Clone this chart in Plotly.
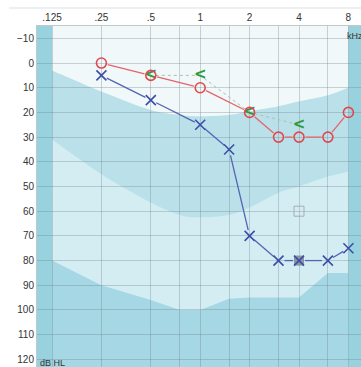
import math
import plotly.graph_objects as go

# ---------------- data ----------------
freq_ticks = [0.125, 0.25, 0.5, 0.75, 1, 1.5, 2, 3, 4, 6, 8]
freq_ticktext = [".125", ".25", ".5", "", "1", "", "2", "", "4", "", "8"]
db_ticks = list(range(-10, 121, 10))

right_air_f = [0.25, 0.5, 1, 2, 3, 4, 6, 8]
right_air_db = [0, 5, 10, 20, 30, 30, 30, 20]

bone_f = [0.5, 1, 2, 4]
bone_db = [5, 5, 20, 25]

left_air_f = [0.25, 0.5, 1, 1.5, 2, 3, 4, 6, 8]
left_air_db = [5, 15, 25, 35, 70, 80, 80, 80, 75]

mask_open_f = [4]
mask_open_db = [60]
mask_fill_f = [4]
mask_fill_db = [80]

# background degree-of-loss boundaries
band_f = [0.125, 0.25, 0.5, 0.75, 1, 1.5, 2, 3, 4, 6, 8]
bound_a = [3, 11.5, 19, 21, 21.5, 21, 19.5, 17.5, 15.5, 13, 10]
bound_b = [31, 45, 56.5, 61.5, 62.5, 61.5, 58.5, 52.5, 50, 46, 44]
bound_c = [80, 90, 96, 100, 100, 95.5, 95, 95, 95, 85, 85]

# ---------------- geometry ----------------
W, H = 361, 367
ML, MT, MR, MB = 37, 26, 0, 0
PW, PH = W - ML - MR, H - MT - MB
L2 = math.log10(2)
XR = [math.log10(0.125) - 0.304 * L2, math.log10(0.125) + 6.255 * L2]
YR = [123.1, -15]
PXD = PW / (XR[1] - XR[0])
PYD = PH / (YR[0] - YR[1])

C_BG = "#f1f8fa"
C_A = "#bae1ea"
C_B = "#d3edf3"
C_C = "#a5d8e4"
C_BAND = "#99d2df"
RED = "#e2474f"
BLUE = "#3b4ea6"
GREEN = "#2f9a3e"


def gapped(fs, ds, gap):
    xs, ys = [], []
    for i in range(len(fs) - 1):
        x0, y0 = math.log10(fs[i]) * PXD, ds[i] * PYD
        x1, y1 = math.log10(fs[i + 1]) * PXD, ds[i + 1] * PYD
        d = math.hypot(x1 - x0, y1 - y0)
        if d <= 2 * gap:
            continue
        ux, uy = (x1 - x0) / d, (y1 - y0) / d
        ax, ay = x0 + ux * gap, y0 + uy * gap
        bx, by = x1 - ux * gap, y1 - uy * gap
        xs += [10 ** (ax / PXD), 10 ** (bx / PXD), None]
        ys += [ay / PYD, by / PYD, None]
    return xs, ys


def smooth_path(fs, ds, bottom):
    pts = [(math.log10(f), d) for f, d in zip(fs, ds)]
    n = len(pts)
    s = f"M {fs[0]},{ds[0]}"
    for i in range(n - 1):
        p0 = pts[max(i - 1, 0)]
        p1 = pts[i]
        p2 = pts[i + 1]
        p3 = pts[min(i + 2, n - 1)]
        c1 = (p1[0] + (p2[0] - p0[0]) / 6, p1[1] + (p2[1] - p0[1]) / 6)
        c2 = (p2[0] - (p3[0] - p1[0]) / 6, p2[1] - (p3[1] - p1[1]) / 6)
        s += (f" C {10 ** c1[0]},{c1[1]} {10 ** c2[0]},{c2[1]} "
              f"{10 ** p2[0]},{p2[1]}")
    s += f" L {fs[-1]},{bottom} L {fs[0]},{bottom} Z"
    return s


def poly_path(fs, ds, bottom):
    s = f"M {fs[0]},{ds[0]}"
    for f, d in zip(fs[1:], ds[1:]):
        s += f" L {f},{d}"
    s += f" L {fs[-1]},{bottom} L {fs[0]},{bottom} Z"
    return s


shapes = [
    dict(type="path", xref="x", yref="y", layer="below", line_width=0,
         fillcolor=C_A, path=smooth_path(band_f, bound_a, 140)),
    dict(type="path", xref="x", yref="y", layer="below", line_width=0,
         fillcolor=C_B, path=smooth_path(band_f, bound_b, 140)),
    dict(type="path", xref="x", yref="y", layer="below", line_width=0,
         fillcolor=C_C, path=poly_path(band_f, bound_c, 140)),
    dict(type="rect", xref="x", yref="y", layer="below", line_width=0,
         fillcolor=C_BAND, x0=0.05, x1=band_f[0], y0=-30, y1=140),
    dict(type="rect", xref="x", yref="y", layer="below", line_width=0,
         fillcolor=C_BAND, x0=band_f[-1], x1=20, y0=-30, y1=140),
    dict(type="line", xref="paper", yref="paper", layer="above",
         x0=(9 - ML) / PW, x1=1, y0=1 + (MT - 8) / PH, y1=1 + (MT - 8) / PH,
         line=dict(color="#dcdfe1", width=1)),
]

fig = go.Figure()

# bone conduction dotted connections
bx, by = gapped(bone_f, bone_db, 5)
fig.add_trace(go.Scatter(x=bx, y=by, mode="lines", hoverinfo="skip",
                         line=dict(color="#a3c4a9", width=1, dash="dot")))
# right ear air lines
rx, ry = gapped(right_air_f, right_air_db, 6.5)
fig.add_trace(go.Scatter(x=rx, y=ry, mode="lines", hoverinfo="skip",
                         line=dict(color="#e3636a", width=1.3)))
# left ear air lines
lx, ly = gapped(left_air_f, left_air_db, 6)
fig.add_trace(go.Scatter(x=lx, y=ly, mode="lines", hoverinfo="skip",
                         line=dict(color="#5464b3", width=1.3)))

# masking squares
fig.add_trace(go.Scatter(x=mask_open_f, y=mask_open_db, mode="markers",
                         marker=dict(symbol="square-open", size=10,
                                     color="#a9adb1", line=dict(width=1))))
fig.add_trace(go.Scatter(x=mask_fill_f, y=mask_fill_db, mode="markers",
                         marker=dict(symbol="square", size=10,
                                     color="#8e93a2", line=dict(width=0))))

# symbols
fig.add_trace(go.Scatter(x=bone_f, y=bone_db, mode="text", text=["<"] * len(bone_f),
                         textposition="middle center",
                         textfont=dict(color=GREEN, size=15, weight="bold",
                                       family="DejaVu Sans")))
fig.add_trace(go.Scatter(x=right_air_f, y=right_air_db, mode="markers",
                         marker=dict(symbol="circle-open", size=10, color=RED,
                                     line=dict(width=1.6))))
fig.add_trace(go.Scatter(x=left_air_f, y=left_air_db, mode="markers",
                         marker=dict(symbol="x-thin-open", size=10, color=BLUE,
                                     line=dict(width=1.6, color=BLUE))))

grid = "rgba(110,125,130,0.32)"
fig.update_layout(
    width=W, height=H,
    margin=dict(l=ML, r=MR, t=MT, b=MB, pad=0),
    paper_bgcolor="white", plot_bgcolor=C_BG,
    showlegend=False,
    shapes=shapes,
    font=dict(family="Liberation Sans, Arial, sans-serif", size=10, color="#333"),
    xaxis=dict(type="log", range=XR, side="top", tickmode="array",
               tickvals=freq_ticks, ticktext=freq_ticktext, ticks="",
               showgrid=True, gridcolor=grid, gridwidth=1, zeroline=False,
               showline=True, linecolor="#c3c8cb", linewidth=1,
               tickfont=dict(size=10, color="#333")),
    yaxis=dict(range=YR, tickmode="array", tickvals=db_ticks, ticks="",
               showgrid=True, gridcolor=grid, gridwidth=1, zeroline=False,
               showline=True, linecolor="#c3c8cb", linewidth=1,
               tickfont=dict(size=10, color="#333")),
    annotations=[
        dict(text="kHz", xref="paper", yref="paper", x=(345 - ML) / PW,
             y=1 - (36 - MT) / PH, xanchor="left", yanchor="middle",
             showarrow=False, font=dict(size=9, color="#333")),
        dict(text="dB HL", xref="paper", yref="paper", x=0.004,
             y=(H - 363) / PH, xanchor="left", yanchor="middle",
             showarrow=False, font=dict(size=9, color="#333")),
    ],
)

fig.write_html("out.html")
